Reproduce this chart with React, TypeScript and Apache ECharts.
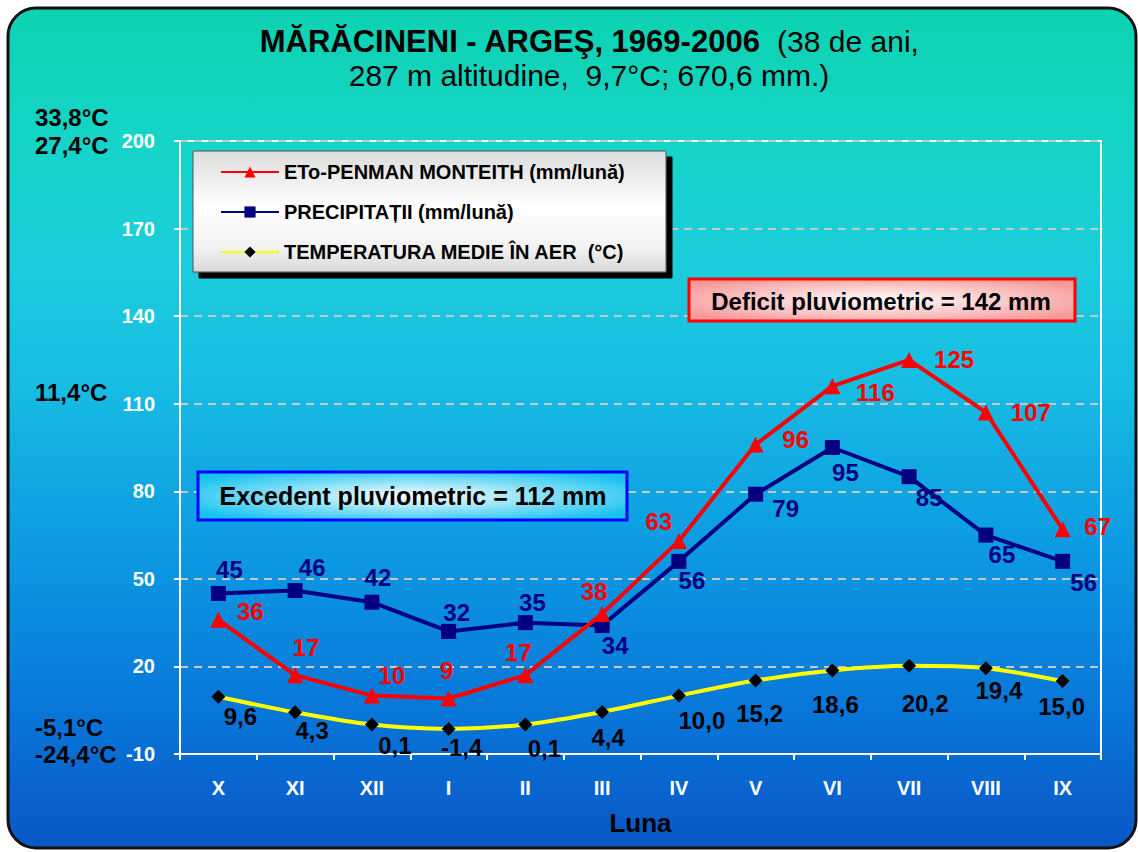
import React, { useEffect, useRef } from 'react';
import * as echarts from 'echarts';

const FONT = '"Liberation Sans", Arial, sans-serif';

const months = ['X', 'XI', 'XII', 'I', 'II', 'III', 'IV', 'V', 'VI', 'VII', 'VIII', 'IX'];
const etoValues = [36, 17, 10, 9, 17, 38, 63, 96, 116, 125, 107, 67];
const precipValues = [45, 46, 42, 32, 35, 34, 56, 79, 95, 85, 65, 56];
const tempValues = [9.6, 4.3, 0.1, -1.4, 0.1, 4.4, 10.0, 15.2, 18.6, 20.2, 19.4, 15.0];

const seriesNames = [
  'ETo-PENMAN MONTEITH (mm/lună)',
  'PRECIPITAȚII (mm/lună)',
  'TEMPERATURA MEDIE ÎN AER  (°C)',
];

const yMin = -10;
const yMax = 200;
const yInterval = 30;

const titleLine1Bold = 'MĂRĂCINENI - ARGEŞ, 1969-2006';
const titleLine1Normal = '(38 de ani,';
const titleLine2 = '287 m altitudine,  9,7°C; 670,6 mm.)';
const sideTempLabels = ['33,8°C', '27,4°C', '11,4°C', '-5,1°C', '-24,4°C'];
const deficitText = 'Deficit pluviometric = 142 mm';
const excedentText = 'Excedent pluviometric = 112 mm';

// label placement (style, not data): offset of label centre from point centre
const etoLabelOffsets = [[32, -8], [11, -28], [20, -20], [-2, -28], [-7, -23], [-8, -22], [-20, -19], [40, -5], [43, 6], [45, 0], [45, 0], [35, -3]];
const precipLabelOffsets = [[11, -24], [17, -23], [6, -25], [8, -19], [7, -20], [13, 20], [13, 19], [30, 14], [13, 25], [20, 21], [16, 19], [21, 21]];
const tempLabelOffsets = [[22, 20], [17, 18], [23, 21], [13, 19], [19, 24], [6, 26], [23, 25], [4, 33], [3, 34], [16, 38], [13, 22], [-1, 25]];
const sideLabelY = [117, 145, 392, 727, 754];

export default function App() {
  const ref = useRef<HTMLDivElement>(null);

  useEffect(() => {
    if (!ref.current) return;
    const chart = echarts.init(ref.current, null, { renderer: 'svg' });

    const labelBase = {
      show: true,
      position: 'inside',
      fontSize: 24,
      fontWeight: 'bold',
      fontFamily: FONT,
    };

    const option: any = {
      animation: false,
      backgroundColor: '#ffffff',
      grid: {
        left: 180,
        right: 37,
        top: 141,
        bottom: 98,
        show: true,
        borderColor: '#ffffff',
        borderWidth: 2,
        backgroundColor: 'transparent',
      },
      xAxis: {
        type: 'category',
        data: months,
        boundaryGap: true,
        axisLine: { onZero: false, lineStyle: { color: '#ffffff', width: 2 } },
        axisTick: { show: true, length: 6, lineStyle: { color: '#ffffff', width: 2 } },
        axisLabel: { color: '#ffffff', fontWeight: 'bold', fontSize: 20, margin: 24, fontFamily: FONT },
        name: 'Luna',
        nameLocation: 'middle',
        nameGap: 56,
        nameTextStyle: { color: '#000000', fontWeight: 'bold', fontSize: 26, fontFamily: FONT },
      },
      yAxis: {
        type: 'value',
        min: yMin,
        max: yMax,
        interval: yInterval,
        axisLine: { show: true, onZero: false, lineStyle: { color: '#ffffff', width: 2 } },
        axisTick: { show: true, length: 6, lineStyle: { color: '#ffffff', width: 2 } },
        axisLabel: { color: '#ffffff', fontSize: 20, fontWeight: 'bold', margin: 25, fontFamily: FONT },
        splitLine: { show: true, lineStyle: { color: '#c8c8c8', width: 2, type: [8, 6] } },
      },
      legend: {
        orient: 'vertical',
        left: 220,
        top: 162,
        itemWidth: 58,
        itemHeight: 14,
        itemGap: 20,
        padding: 0,
        z: 6,
        data: seriesNames,
        textStyle: { color: '#000000', fontSize: 20, fontWeight: 'bold', fontFamily: FONT },
      },
      graphic: [
        {
          type: 'rect',
          z: -100,
          silent: true,
          shape: { x: 8, y: 8, width: 1128, height: 840, r: 28 },
          style: {
            fill: new echarts.graphic.LinearGradient(0, 0, 0, 1, [
              { offset: 0, color: '#0dd2b0' },
              { offset: 0.15, color: '#14d5c6' },
              { offset: 0.3, color: '#1ccddc' },
              { offset: 0.45, color: '#17bce3' },
              { offset: 0.65, color: '#0c99e2' },
              { offset: 0.85, color: '#0874d8' },
              { offset: 1, color: '#0a56c6' },
            ]),
            stroke: '#111111',
            lineWidth: 3,
          },
        },
        {
          type: 'text',
          z: 10,
          x: 589,
          y: 41,
          style: {
            text: '{b|' + titleLine1Bold + '}{n|  ' + titleLine1Normal + '}',
            rich: {
              b: { fontSize: 31, fontWeight: 'bold', fontFamily: FONT, fill: '#000' },
              n: { fontSize: 30, fontFamily: FONT, fill: '#000' },
            },
            textAlign: 'center',
            textVerticalAlign: 'middle',
          },
        },
        {
          type: 'text',
          z: 10,
          x: 589,
          y: 75,
          style: {
            text: titleLine2,
            fontSize: 30,
            fontFamily: FONT,
            fill: '#000',
            textAlign: 'center',
            textVerticalAlign: 'middle',
          },
        },
        ...sideTempLabels.map((t, i) => ({
          type: 'text',
          z: 10,
          x: 35,
          y: sideLabelY[i],
          style: {
            text: t,
            fontSize: 24,
            fontWeight: 'bold',
            fontFamily: FONT,
            fill: '#000',
            textAlign: 'left',
            textVerticalAlign: 'middle',
          },
        })),
        {
          type: 'rect',
          z: 3,
          silent: true,
          shape: { x: 193, y: 151, width: 473, height: 121 },
          style: {
            fill: new echarts.graphic.LinearGradient(0, 0, 0, 1, [
              { offset: 0, color: '#dcdcdc' },
              { offset: 0.45, color: '#ffffff' },
              { offset: 0.8, color: '#f2f2f2' },
              { offset: 1, color: '#d8d8d8' },
            ]),
            stroke: '#555555',
            lineWidth: 1,
            shadowColor: '#000000',
            shadowBlur: 0,
            shadowOffsetX: 6,
            shadowOffsetY: 6,
          },
        },
        {
          type: 'group',
          z: 10,
          children: [
            {
              type: 'rect',
              z: 10,
              shape: { x: 689, y: 279, width: 386, height: 42 },
              style: {
                fill: new echarts.graphic.RadialGradient(0.5, 0.5, 0.6, [
                  { offset: 0, color: '#ffffff' },
                  { offset: 1, color: '#f79a9a' },
                ]),
                stroke: '#ff0000',
                lineWidth: 3,
              },
            },
            {
              type: 'text',
              z: 11,
              x: 881,
              y: 301,
              style: {
                text: deficitText,
                fontSize: 24,
                fontWeight: 'bold',
                fontFamily: FONT,
                fill: '#000',
                textAlign: 'center',
                textVerticalAlign: 'middle',
              },
            },
          ],
        },
        {
          type: 'group',
          z: 10,
          children: [
            {
              type: 'rect',
              z: 10,
              shape: { x: 198, y: 472, width: 429, height: 48 },
              style: {
                fill: new echarts.graphic.RadialGradient(0.5, 0.5, 0.6, [
                  { offset: 0, color: '#ffffff' },
                  { offset: 1, color: '#19c3f0' },
                ]),
                stroke: '#0000ff',
                lineWidth: 3,
              },
            },
            {
              type: 'text',
              z: 11,
              x: 413,
              y: 496,
              style: {
                text: excedentText,
                fontSize: 25,
                fontWeight: 'bold',
                fontFamily: FONT,
                fill: '#000',
                textAlign: 'center',
                textVerticalAlign: 'middle',
              },
            },
          ],
        },
      ],
      series: [
        {
          name: seriesNames[2],
          type: 'line',
          z: 3,
          smooth: 0.3,
          data: tempValues.map((v, i) => ({ value: v, label: { offset: tempLabelOffsets[i] } })),
          symbol: 'diamond',
          symbolSize: 14,
          lineStyle: { color: '#ffff00', width: 4 },
          itemStyle: { color: '#000000' },
          label: {
            ...labelBase,
            color: '#000000',
            formatter: (p: any) => Number(p.value).toFixed(1).replace('.', ','),
          },
        },
        {
          name: seriesNames[1],
          type: 'line',
          z: 4,
          data: precipValues.map((v, i) => ({ value: v, label: { offset: precipLabelOffsets[i] } })),
          symbol: 'rect',
          symbolSize: 15,
          lineStyle: { color: '#000080', width: 4 },
          itemStyle: { color: '#000080' },
          label: { ...labelBase, color: '#000080' },
        },
        {
          name: seriesNames[0],
          type: 'line',
          z: 5,
          data: etoValues.map((v, i) => ({ value: v, label: { offset: etoLabelOffsets[i] } })),
          symbol: 'triangle',
          symbolSize: 16,
          lineStyle: { color: '#ff0000', width: 4 },
          itemStyle: { color: '#ff0000' },
          label: { ...labelBase, color: '#ff0000' },
        },
      ],
    };

    chart.setOption(option);
    return () => chart.dispose();
  }, []);

  return (
    <div
      ref={ref}
      style={{ position: 'fixed', left: 0, top: 0, width: 1138, height: 852 }}
    />
  );
}
